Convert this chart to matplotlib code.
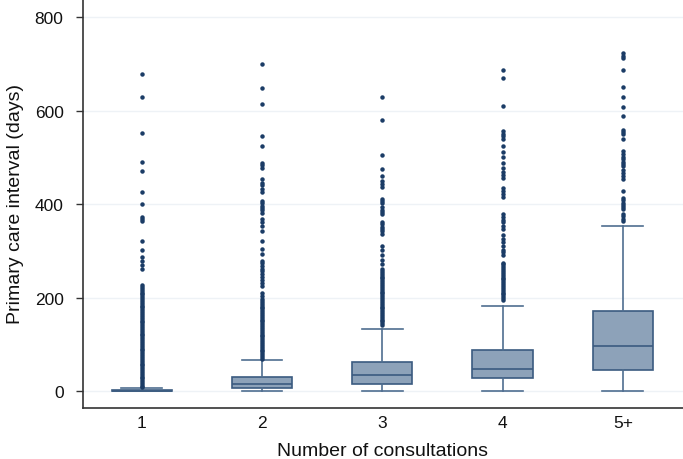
import matplotlib
matplotlib.use("Agg")
from matplotlib import pyplot as plt

plt.rcParams["font.family"] = ["Liberation Sans", "DejaVu Sans"]

# ----------------------------------------------------------------------
# DATA
# ----------------------------------------------------------------------
CATEGORIES = ["1", "2", "3", "4", "5+"]

WHISK_LO = [0, 0, 0, 0, 0]
Q1 = [0, 7, 15, 27, 46]
MEDIAN = [1, 16, 34, 47, 96]
Q3 = [3, 31, 63, 89, 172]
WHISK_HI = [7, 66, 133, 182, 354]

OUTLIERS_1 = [678, 630, 553, 490, 471, 426, 401, 372, 368, 364, 321, 303,
              287, 279, 270, 261, 227, 223, 219, 215, 211, 207, 203, 199,
              195, 191, 187, 183, 179, 175, 171, 167, 163, 159, 155, 151,
              147, 143, 139, 135, 131, 127, 123, 119, 115, 111, 107, 103,
              99, 95, 91, 87, 83, 79, 75, 71, 67, 63, 59, 55, 51, 47, 43,
              39, 35, 31, 27, 23, 19, 15, 11, 9]
OUTLIERS_2 = [700, 648, 614, 546, 525, 489, 484, 478, 453, 446, 440, 433,
              425, 407, 402, 397, 392, 387, 382, 368, 361, 354, 342, 321,
              305, 293, 279, 274, 268, 262, 256, 250, 244, 238, 231, 225,
              211, 204, 197, 193, 189, 185, 181, 177, 173, 169, 165, 161,
              157, 153, 149, 145, 141, 137, 133, 129, 125, 121, 117, 113,
              109, 105, 101, 97, 93, 89, 85, 81, 77, 73, 69]
OUTLIERS_3 = [630, 581, 506, 476, 461, 450, 444, 437, 412, 407, 402, 393,
              388, 384, 379, 362, 357, 352, 347, 342, 336, 310, 302, 292,
              280, 272, 261, 257, 253, 249, 245, 241, 237, 233, 229, 225,
              221, 217, 213, 209, 205, 201, 197, 193, 189, 185, 181, 177,
              173, 169, 165, 161, 157, 153, 149, 145, 141]
OUTLIERS_4 = [687, 669, 609, 557, 551, 545, 539, 525, 512, 500, 489, 478,
              469, 463, 457, 434, 428, 422, 416, 379, 373, 367, 361, 354,
              347, 334, 326, 319, 310, 303, 297, 291, 275, 271, 267, 263,
              259, 255, 251, 247, 243, 239, 235, 231, 227, 223, 219, 215,
              211, 207, 203, 199, 195]
OUTLIERS_5 = [724, 718, 712, 687, 650, 630, 607, 588, 559, 554, 550, 539,
              514, 508, 502, 496, 490, 485, 482, 473, 466, 460, 453, 428,
              413, 408, 403, 398, 394, 389, 379, 374, 369, 364]

OUTLIERS = [OUTLIERS_1, OUTLIERS_2, OUTLIERS_3, OUTLIERS_4, OUTLIERS_5]

Y_TICKS = [0, 200, 400, 600, 800]

# ----------------------------------------------------------------------
# STYLE
# ----------------------------------------------------------------------
BOX_FILL = "#8da2b9"
BOX_EDGE = "#3b5b80"
WHISK_COLOR = "#4f6e90"
DOT_COLOR = "#1b3c66"
GRID_COLOR = "#eef2f6"
TEXT_COLOR = "#111111"
TICK_SIZE = 12.5
LABEL_SIZE = 14


def main():
    stats = []
    for i, label in enumerate(CATEGORIES):
        stats.append({
            "label": label,
            "whislo": WHISK_LO[i],
            "q1": Q1[i],
            "med": MEDIAN[i],
            "q3": Q3[i],
            "whishi": WHISK_HI[i],
            "fliers": OUTLIERS[i],
        })

    fig = plt.figure(figsize=(6.83, 4.60), dpi=100)
    ax = fig.add_axes([0.1215, 0.111, 0.8785, 0.889])

    for y in Y_TICKS:
        ax.axhline(y, color=GRID_COLOR, lw=1.0, zorder=0)

    ax.bxp(
        stats,
        positions=range(1, len(CATEGORIES) + 1),
        widths=0.5,
        patch_artist=True,
        boxprops=dict(facecolor=BOX_FILL, edgecolor=BOX_EDGE, linewidth=1.2),
        medianprops=dict(color=BOX_EDGE, linewidth=1.2),
        whiskerprops=dict(color=WHISK_COLOR, linewidth=1.2),
        capprops=dict(color=WHISK_COLOR, linewidth=1.2),
        capwidths=0.34,
        flierprops=dict(marker="o", markersize=2.2, markerfacecolor=DOT_COLOR,
                        markeredgecolor=DOT_COLOR, linestyle="none"),
        zorder=2,
    )

    ax.set_xlim(0.512, 5.5)
    ax.set_ylim(-36, 839)
    ax.set_yticks(Y_TICKS)
    ax.set_xticks(range(1, len(CATEGORIES) + 1))
    ax.set_xticklabels(CATEGORIES)

    for side in ("top", "right"):
        ax.spines[side].set_visible(False)
    for side in ("left", "bottom"):
        ax.spines[side].set_color("#333333")
        ax.spines[side].set_linewidth(1.2)

    ax.tick_params(axis="y", length=5, width=1.0, color="#333333",
                   labelsize=TICK_SIZE, pad=9, labelcolor=TEXT_COLOR)
    ax.tick_params(axis="x", length=0, labelsize=TICK_SIZE, pad=5,
                   labelcolor=TEXT_COLOR)

    ax.set_xlabel("Number of consultations", fontsize=LABEL_SIZE,
                  color=TEXT_COLOR, labelpad=9)
    ax.set_ylabel("Primary care interval (days)", fontsize=LABEL_SIZE,
                  color=TEXT_COLOR, labelpad=8)

    fig.savefig("out.png", dpi=100)
    plt.close(fig)


if __name__ == "__main__":
    main()
